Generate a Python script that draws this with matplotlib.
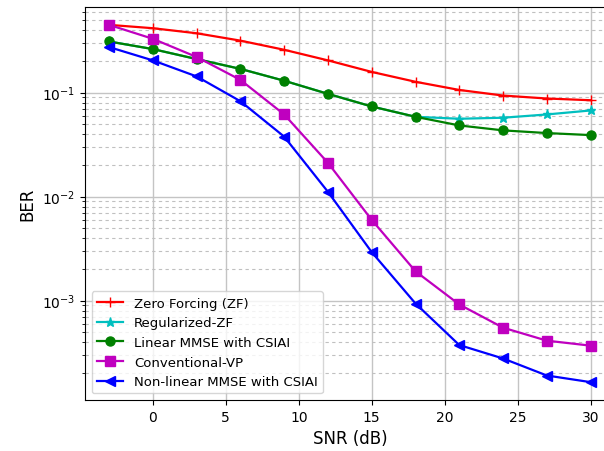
import matplotlib
matplotlib.use('Agg')
import matplotlib.pyplot as plt

snr_db = [-3, 0, 3, 6, 9, 12, 15, 18, 21, 24, 27, 30]

ber_zf = [0.448, 0.416, 0.372, 0.316, 0.258, 0.204, 0.158, 0.127, 0.106, 0.0936, 0.0877, 0.0844]
ber_rzf = [0.310, 0.262, 0.210, 0.169, 0.130, 0.0972, 0.0735, 0.0585, 0.056, 0.0573, 0.0616, 0.0673]
ber_lmmse = [0.310, 0.262, 0.210, 0.169, 0.130, 0.0972, 0.0735, 0.0585, 0.0483, 0.0433, 0.0408, 0.0390]
ber_vp = [0.448, 0.329, 0.220, 0.1325, 0.0616, 0.0211, 0.00596, 0.00191, 0.000916, 0.000548, 0.000411, 0.000368]
ber_nlmmse = [0.274, 0.204, 0.143, 0.0826, 0.0377, 0.0111, 0.00292, 0.000936, 0.000373, 0.000277, 0.000190, 0.000164]

labels = ['Zero Forcing (ZF)', 'Regularized-ZF', 'Linear MMSE with CSIAI',
          'Conventional-VP', 'Non-linear MMSE with CSIAI']

fig = plt.figure(figsize=(6.04, 4.52), dpi=100)
ax = fig.add_axes([0.1407, 0.1128, 0.877, 0.8695])

ax.semilogy(snr_db, ber_zf, 'r-+', lw=1.6, ms=7, label=labels[0])
ax.semilogy(snr_db, ber_rzf, 'c-*', lw=1.6, ms=6.5, label=labels[1])
ax.semilogy(snr_db, ber_lmmse, 'g-o', lw=1.6, ms=6.5, label=labels[2])
ax.semilogy(snr_db, ber_vp, 'm-s', lw=1.6, ms=6.5, label=labels[3])
ax.semilogy(snr_db, ber_nlmmse, 'b-<', lw=1.6, ms=6.5, label=labels[4])

ax.grid(True, which='major', color='#c4c4c4', lw=1.0)
ax.grid(True, which='minor', color='#c0c0c0', ls=(0, (3, 3)), lw=0.8)
ax.set_xticks([0, 5, 10, 15, 20, 25, 30])
ax.tick_params(labelsize=10)
ax.set_xlabel('SNR (dB)', fontsize=12)
ax.set_ylabel('BER', fontsize=12)
ax.legend(loc='lower left', fontsize=9.5)

fig.savefig('out.png', dpi=100)
